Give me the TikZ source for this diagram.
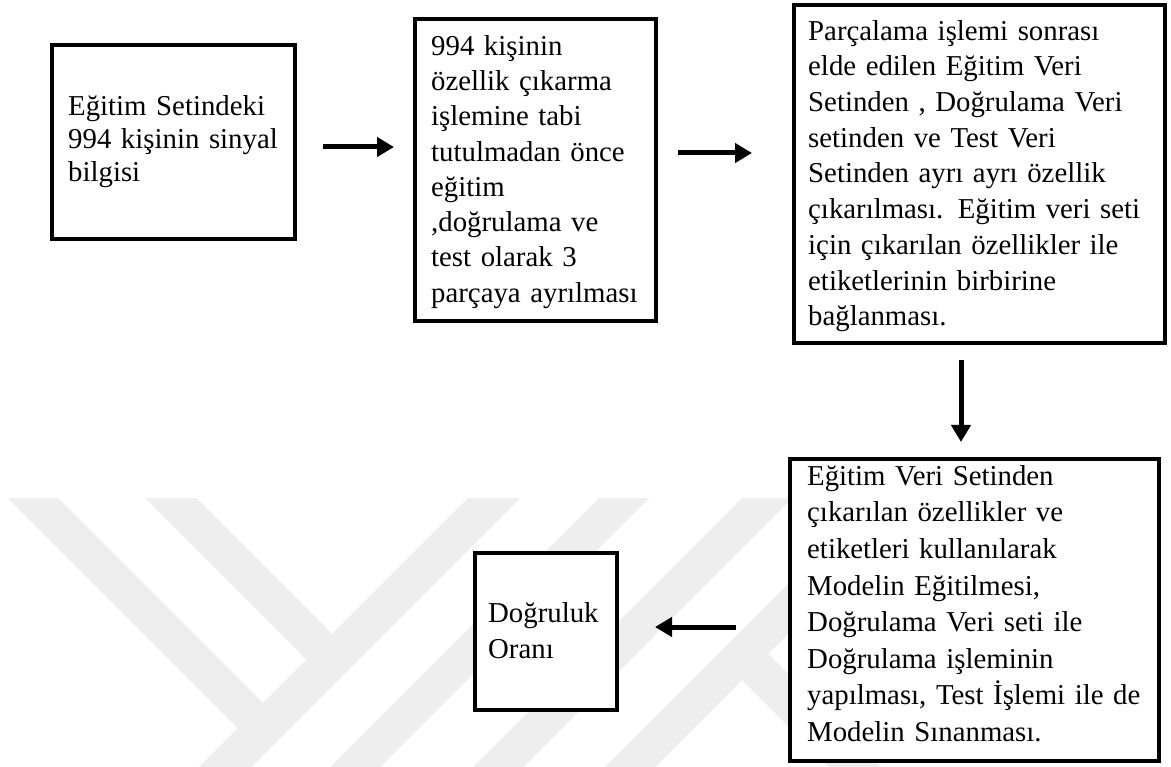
\documentclass[tikz,border=0pt]{standalone}
\usepackage{fontspec}
\setmainfont{Liberation Serif}
\usetikzlibrary{arrows.meta}

\definecolor{wmgray}{gray}{0.935}

\tikzset{
  stepbox/.style={draw=black, line width=4pt, fill=white, inner sep=0pt},
  boxtext/.style={anchor=north west, inner sep=0pt, align=left, text width=400pt},
  flow/.style={line width=5pt, -{Triangle[length=17pt,width=19pt]}},
}

\newcommand{\firstline}{\rule{0pt}{30pt}}

\begin{document}
\begin{tikzpicture}[x=1pt, y=-1pt]
  \useasboundingbox (0,0) rectangle (1171,767);
  \fill[white] (0,0) rectangle (1171,767);

  % faint background emblem
  \begin{scope}
    \clip (0,0) rectangle (1171,767);
    \fill[wmgray] (8,498) -- (58,498) -- (263,703) -- (238,728) -- cycle;
    \fill[wmgray] (145,498) -- (196,498) -- (332,634) -- (306.5,659.5) -- cycle;
    \fill[wmgray] (199,767) -- (251,767) -- (520,498) -- (468,498) -- cycle;
    \fill[wmgray] (330,767) -- (380,767) -- (649,498) -- (599,498) -- cycle;
    \fill[wmgray] (473,767) -- (523,767) -- (792,498) -- (742,498) -- cycle;
    \fill[wmgray] (605,767) -- (655,767) -- (924,498) -- (874,498) -- cycle;
    \fill[wmgray] (742,680) -- (768,654) -- (1000,886) -- (1000,938) -- cycle;
  \end{scope}

  % process boxes
  \node[stepbox, minimum width=243pt, minimum height=194pt] (b1) at (173.5,142) {};
  \node[stepbox, minimum width=241pt, minimum height=302pt] (b2) at (535.5,170) {};
  \node[stepbox, minimum width=371pt, minimum height=338pt] (b3) at (979.5,174) {};
  \node[stepbox, minimum width=369pt, minimum height=302pt] (b4) at (974.5,610) {};
  \node[stepbox, minimum width=142pt, minimum height=157pt] (b5) at (546,631.5) {};

  % box texts
  \node[boxtext, font=\fontsize{28.8}{33}\selectfont] (t1) at (68,85)
    {\firstline Eğitim Setindeki\\994 kişinin sinyal\\bilgisi};
  \node[boxtext, font=\fontsize{28.8}{35.3}\selectfont] (t2) at (431,25)
    {\firstline 994 kişinin\\özellik çıkarma\\işlemine tabi\\tutulmadan önce\\eğitim\\,doğrulama ve\\test olarak 3\\parçaya ayrılması};
  \node[boxtext, font=\fontsize{28.8}{35.7}\selectfont] (t3) at (808,10)
    {\firstline Parçalama işlemi sonrası\\elde edilen Eğitim Veri\\Setinden , Doğrulama Veri\\setinden ve Test Veri\\Setinden ayrı ayrı özellik\\çıkarılması. Eğitim veri seti\\için çıkarılan özellikler ile\\etiketlerinin birbirine\\bağlanması.};
  \node[boxtext, font=\fontsize{28.8}{36.6}\selectfont] (t4) at (807,455)
    {\firstline Eğitim Veri Setinden\\çıkarılan özellikler ve\\etiketleri kullanılarak\\Modelin Eğitilmesi,\\Doğrulama Veri seti ile\\Doğrulama işleminin\\yapılması, Test İşlemi ile de\\Modelin Sınanması.};
  \node[boxtext, font=\fontsize{28.8}{36}\selectfont] (t5) at (488,592)
    {\firstline Doğruluk\\Oranı};

  % connector heights
  \coordinate (r1) at (0,147);
  \coordinate (r2) at (0,153);
  \coordinate (c3) at (961,0);
  \coordinate (r4) at (0,627);

  % flow arrows
  \draw[flow, shorten <=26pt, shorten >=19pt] (b1.east |- r1) -- (b2.west |- r1);
  \draw[flow, shorten <=20pt, shorten >=40pt] (b2.east |- r2) -- (b3.west |- r2);
  \draw[flow, shorten <=15pt, shorten >=15pt] (b3.south -| c3) -- (b4.north -| c3);
  \draw[flow, shorten <=52pt, shorten >=36pt] (b4.west |- r4) -- (b5.east |- r4);
\end{tikzpicture}
\end{document}
